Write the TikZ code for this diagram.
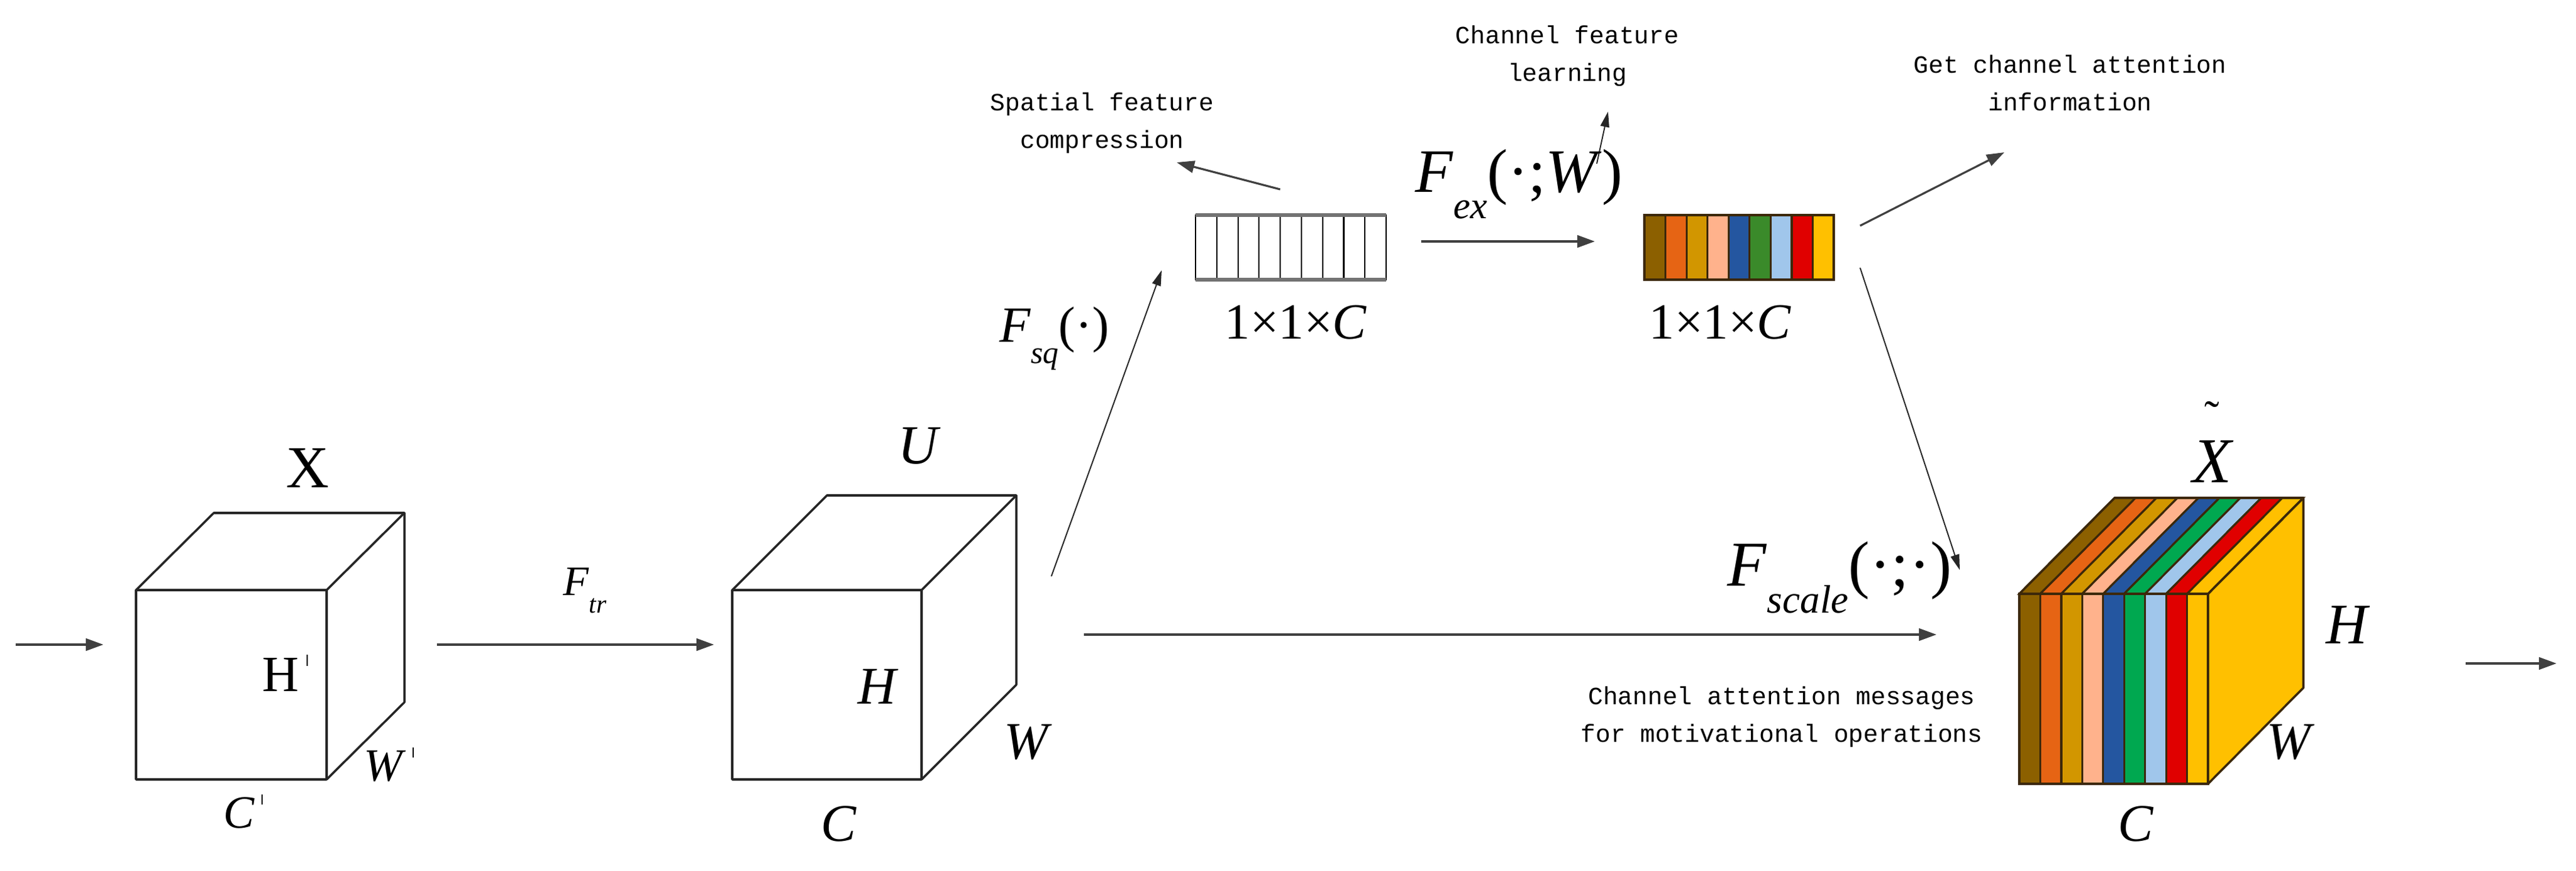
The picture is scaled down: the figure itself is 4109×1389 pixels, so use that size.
\documentclass[tikz,border=0pt]{standalone}
\usepackage{fontspec}
\usepackage{graphicx}
\setmainfont{Liberation Serif}
\setmonofont{Liberation Mono}
\usetikzlibrary{arrows.meta}
\definecolor{sbrown}{RGB}{140,96,0}
\definecolor{sorange}{RGB}{230,100,20}
\definecolor{sgold}{RGB}{210,150,0}
\definecolor{speach}{RGB}{255,178,140}
\definecolor{sblue}{RGB}{36,86,160}
\definecolor{sgreenA}{RGB}{58,138,42}
\definecolor{sgreenB}{RGB}{0,168,80}
\definecolor{slblue}{RGB}{160,198,235}
\definecolor{sred}{RGB}{224,0,0}
\definecolor{syellow}{RGB}{255,192,0}
\definecolor{edgecol}{RGB}{60,40,10}
\newcommand{\mysub}[1]{\raisebox{-0.42em}{\scalebox{0.62}{\textit{#1}}}}
\newcommand{\myprime}{\hspace{0.14em}\raisebox{0.5em}{\rule{0.7pt}{0.22em}}}
\begin{document}
\begin{tikzpicture}[x=0.01cm,y=-0.01cm,
  cubeedge/.style={line width=1pt,draw=black!85,line join=round},
  arr/.style={line width=1.1pt,draw=black!75,-{Triangle[length=8pt,width=5.5pt]}},
  thinarr/.style={line width=0.55pt,draw=black!85,-{Triangle[length=7pt,width=4pt]}},
  note/.style={font=\ttfamily\fontsize{11.25}{17}\selectfont,align=center,inner sep=0pt},
  lbl/.style={font=\fontsize{#1}{#1}\selectfont,inner sep=0pt}]
\useasboundingbox (0,0) rectangle (4109,1389);
\fill[white] (0,0) rectangle (4109,1389);

% ---------- cube X ----------
\draw[cubeedge] (217,941) rectangle (521,1243);
\draw[cubeedge] (217,941) -- (341,818) -- (645,818) -- (521,941);
\draw[cubeedge] (645,818) -- (645,1120) -- (521,1243);
\node[lbl=27] (lX) at (491,746) {X};
\node[lbl=23] (lH1) at (455,1073) {H\myprime};
\node[lbl=21] (lW1) at (620,1219) {\textit{W}\myprime};
\node[lbl=21] (lC1) at (388,1294) {\textit{C}\myprime};

% ---------- cube U ----------
\draw[cubeedge] (1168,941) rectangle (1470,1243);
\draw[cubeedge] (1168,941) -- (1319,790) -- (1621,790) -- (1470,941);
\draw[cubeedge] (1621,790) -- (1621,1092) -- (1470,1243);
\node[lbl=25] (lU) at (1467,711) {\textit{U}};
\node[lbl=24] (lH2) at (1401,1095) {\textit{H}};
\node[lbl=24] (lW2) at (1640,1184) {\textit{W}};
\node[lbl=24] (lC2) at (1338,1314) {\textit{C}};

% ---------- squeezed vector ----------
\draw[line width=0.6pt] (1907,343) rectangle (2211,446);
\foreach \i in {1,...,8} \draw[line width=0.6pt] (1907+\i*33.78,343) -- (1907+\i*33.78,446);
\draw[line width=1.6pt,draw=black!55] (1907,343) -- (2211,343);
\draw[line width=1.6pt,draw=black!55] (1907,446) -- (2211,446);
\node[lbl=23] (d1) at (2067,514) {1×1×\textit{C}};

% ---------- excited vector ----------
\foreach \c [count=\i from 0] in {sbrown,sorange,sgold,speach,sblue,sgreenA,slblue,sred,syellow}
  \filldraw[fill=\c,draw=edgecol,line width=0.9pt] (2623+\i*33.56,343) rectangle ++(33.56,103);
\node[lbl=23] (d2) at (2744,514) {1×1×\textit{C}};

% ---------- recalibrated cube ----------
\fill[syellow] (3522,947) -- (3674,794) -- (3674,1097) -- (3522,1250) -- cycle;
\draw[cubeedge,draw=edgecol] (3522,947) -- (3674,794) -- (3674,1097) -- (3522,1250);
\foreach \c [count=\i from 0] in {sbrown,sorange,sgold,speach,sblue,sgreenB,slblue,sred,syellow}{
  \filldraw[fill=\c,draw=edgecol,line width=0.9pt] (3221+\i*33.44,947) rectangle ++(33.44,303);
  \filldraw[fill=\c,draw=edgecol,line width=0.9pt] (3221+\i*33.44,947) -- ++(152,-153) -- ++(33.44,0) -- ++(-152,153) -- cycle;
}
\draw[cubeedge,draw=edgecol] (3221,947) rectangle (3522,1250);
\draw[cubeedge,draw=edgecol] (3221,947) -- (3373,794) -- (3674,794) -- (3522,947);
\node[lbl=29] (lXt) at (3530,705) {\textit{X}\makebox[0pt][r]{\raisebox{0.8em}{\scalebox{0.7}{\char"02DC}}\hspace{0.22em}}};
\node[lbl=26] (lH3) at (3746,997) {\textit{H}};
\node[lbl=24] (lW3) at (3654,1184) {\textit{W}};
\node[lbl=24] (lC3) at (3407,1314) {\textit{C}};

% ---------- arrows ----------
\coordinate (inA) at (25,1028);   \coordinate (inB) at (165,1028);
\coordinate (trA) at (697,1028);  \coordinate (trB) at (1139,1028);
\coordinate (sqA) at (1677,919);  \coordinate (sqB) at (1853,431);
\coordinate (exA) at (2267,385);  \coordinate (exB) at (2544,385);
\coordinate (scA) at (1729,1012); \coordinate (scB) at (3089,1012);
\coordinate (dnA) at (2967,427);  \coordinate (dnB) at (3126,909);
\coordinate (outA) at (3933,1058); \coordinate (outB) at (4078,1058);
\coordinate (spA) at (2042,302);  \coordinate (spB) at (1877,259);
\coordinate (clA) at (2547,261);  \coordinate (clB) at (2565,178);
\coordinate (gaA) at (2967,360);  \coordinate (gaB) at (3197,243);

\draw[arr] (inA) -- (inB);
\draw[arr] (trA) -- (trB);
\draw[thinarr] (sqA) -- (sqB);
\draw[arr] (exA) -- (exB);
\draw[arr] (scA) -- (scB);
\draw[thinarr] (dnA) -- (dnB);
\draw[arr] (outA) -- (outB);
\draw[arr,line width=0.9pt] (spA) -- (spB);
\draw[thinarr] (clA) -- (clB);
\draw[arr,line width=0.9pt] (gaA) -- (gaB);

% ---------- function labels ----------
\node[lbl=19] (ftr) at (933,942) {\textit{F}\mysub{tr}};
\node[lbl=23] (fsq) at (1682,540) {\textit{F}\mysub{sq}(·)};
\node[lbl=28,anchor=base west] (fex) at (2257,307) {\textit{F}\mysub{ex}(·;\textit{W})};
\node[lbl=29,anchor=base west] (fsc) at (2755,935) {\textit{F}\mysub{scale}(·;·)};

% ---------- notes ----------
\node[note] (n1) at (1758,196) {Spatial feature\\compression};
\node[note] (n2) at (2500,89) {Channel feature\\learning};
\node[note] (n3) at (3302,132) {Get channel attention\\information};
\node[note] (n4) at (2842,1143) {Channel attention messages\\for motivational operations};
\end{tikzpicture}
\end{document}
